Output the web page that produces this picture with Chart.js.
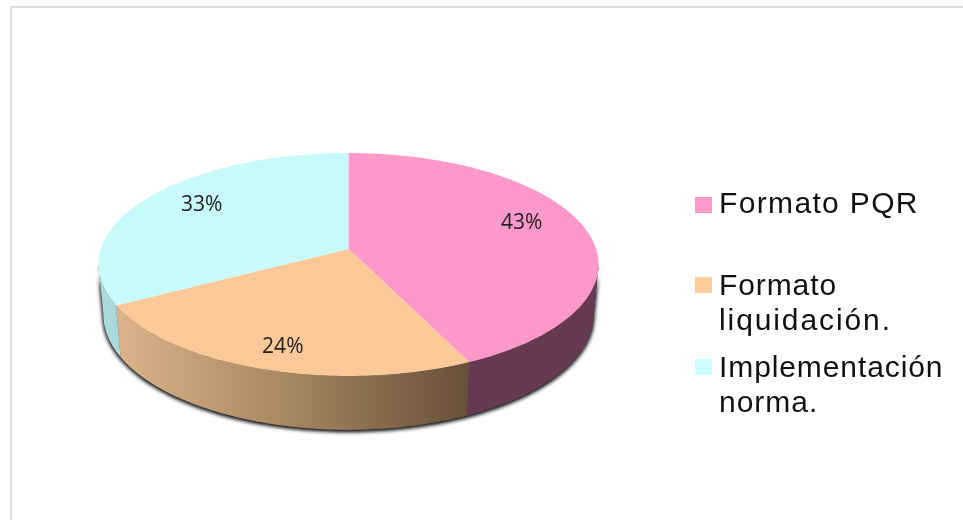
<!DOCTYPE html>
<html>
<head>
<meta charset="utf-8">
<style>
  html, body { margin: 0; padding: 0; background: #fff; }
  canvas { display: block; }
</style>
<script src="https://cdn.jsdelivr.net/npm/chart.js@4"></script>
</head>
<body>
<canvas id="myChart" width="963" height="520"></canvas>
<script>
const categories = ["Formato PQR", "Formato liquidación.", "Implementación norma."];
const values = [43, 24, 33];
const topColors = ["#fd98ca", "#fbc998", "#c9fafb"];
const legendColors = ["#ff99cc", "#ffcc99", "#ccffff"];

// perspective of the 3D pie
const PERSP = 0.139, FLAT = 0.4414;
const WALL_DY = 50, WALL_SX = 0.98, WALL_SY = 1.03;
const EDGE = Math.asin(PERSP);

function project(arc, angle, f) {
    const s = f * Math.sin(angle), c = f * Math.cos(angle);
    const w = 1 - PERSP * s;
    return {
        x: arc.x + arc.outerRadius * c / w,
        y: arc.y + arc.outerRadius * FLAT * s / w
    };
}

function projectBottom(arc, angle) {
    const p = project(arc, angle, 1);
    return {
        x: arc.x + (p.x - arc.x) * WALL_SX,
        y: arc.y + WALL_DY + (p.y - arc.y) * WALL_SY
    };
}

function wallPath(ctx, arc, a0, a1) {
    const steps = 80;
    ctx.beginPath();
    for (let i = 0; i <= steps; i++) {
        const p = project(arc, a0 + (a1 - a0) * i / steps, 1);
        i ? ctx.lineTo(p.x, p.y) : ctx.moveTo(p.x, p.y);
    }
    for (let i = steps; i >= 0; i--) {
        const p = projectBottom(arc, a0 + (a1 - a0) * i / steps);
        ctx.lineTo(p.x, p.y);
    }
    ctx.closePath();
}

function wallFill(ctx, index) {
    if (index === 0) return "#663a52";
    if (index === 2) return "#a9d9da";
    const g = ctx.createLinearGradient(120, 0, 470, 0);
    g.addColorStop(0, "#dbb289");
    g.addColorStop(0.5, "#a5855f");
    g.addColorStop(1, "#674f38");
    return g;
}

const pie3d = {
    id: "pie3d",
    beforeDraw(chart) {
        const ctx = chart.ctx;
        ctx.save();
        ctx.fillStyle = "#dedede";
        ctx.fillRect(10, 6, 953, 2);
        ctx.fillRect(10, 6, 2, 514);
        ctx.restore();
    },
    beforeDatasetsDraw(chart) {
        const ctx = chart.ctx;
        const arcs = chart.getDatasetMeta(0).data;
        ctx.save();

        // soft shadow under the body, twice to get the dark rim
        ctx.save();
        ctx.shadowColor = "rgba(0,0,0,0.85)";
        ctx.shadowBlur = 4;
        ctx.shadowOffsetY = 1.5;
        ctx.fillStyle = "#555";
        wallPath(ctx, arcs[0], EDGE, Math.PI - EDGE);
        ctx.fill();
        ctx.fill();
        ctx.restore();

        // side walls
        arcs.forEach((arc, i) => {
            const a0 = Math.max(arc.startAngle, EDGE);
            const a1 = Math.min(arc.endAngle, Math.PI - EDGE);
            if (a1 <= a0) return;
            ctx.fillStyle = wallFill(ctx, i);
            wallPath(ctx, arc, a0, a1);
            ctx.fill();
        });

        // top face
        arcs.forEach((arc, i) => {
            const steps = 120;
            ctx.beginPath();
            ctx.moveTo(arc.x, arc.y);
            for (let k = 0; k <= steps; k++) {
                const p = project(arc, arc.startAngle + (arc.endAngle - arc.startAngle) * k / steps, 1);
                ctx.lineTo(p.x, p.y);
            }
            ctx.closePath();
            ctx.fillStyle = topColors[i];
            ctx.fill();
        });
        ctx.restore();
        return false;
    },
    afterDraw(chart) {
        const ctx = chart.ctx;
        const arcs = chart.getDatasetMeta(0).data;
        const nudge = [[-4, -8.5], [-2, 11.5], [5, -4.5]];
        ctx.save();

        // percent labels
        ctx.font = '21px "Open Sans"';
        ctx.fillStyle = "#222";
        ctx.textAlign = "center";
        ctx.textBaseline = "middle";
        arcs.forEach((arc, i) => {
            const p = project(arc, (arc.startAngle + arc.endAngle) / 2, 0.75);
            ctx.fillText(values[i] + "%", p.x + nudge[i][0], p.y + nudge[i][1]);
        });

        // legend, wrapped the way the original wraps it
        const rows = [
            { box: 197, lines: [[categories[0], 213, "1.35px"]] },
            { box: 277, lines: [["Formato", 295, "0.9px"], ["liquidación.", 330, "1.9px"]] },
            { box: 359, lines: [["Implementación", 377, "0.9px"], ["norma.", 412, "1px"]] }
        ];
        ctx.font = '30px "Liberation Sans"';
        ctx.textAlign = "left";
        ctx.textBaseline = "alphabetic";
        rows.forEach((row, i) => {
            ctx.fillStyle = legendColors[i];
            ctx.fillRect(695, row.box, 17, 16);
            ctx.fillStyle = "#111";
            row.lines.forEach(l => {
                ctx.letterSpacing = l[2];
                ctx.fillText(l[0], 719, l[1]);
            });
        });
        ctx.restore();
    }
};

new Chart(document.getElementById("myChart").getContext("2d"), {
    type: "pie",
    data: {
        labels: categories,
        datasets: [{ data: values, backgroundColor: topColors, borderWidth: 0, radius: 247.6 }]
    },
    options: {
        responsive: false,
        animation: false,
        layout: { padding: { right: 266, bottom: 22 } },
        plugins: { legend: { display: false }, tooltip: { enabled: false } }
    },
    plugins: [pie3d]
});
</script>
</body>
</html>
